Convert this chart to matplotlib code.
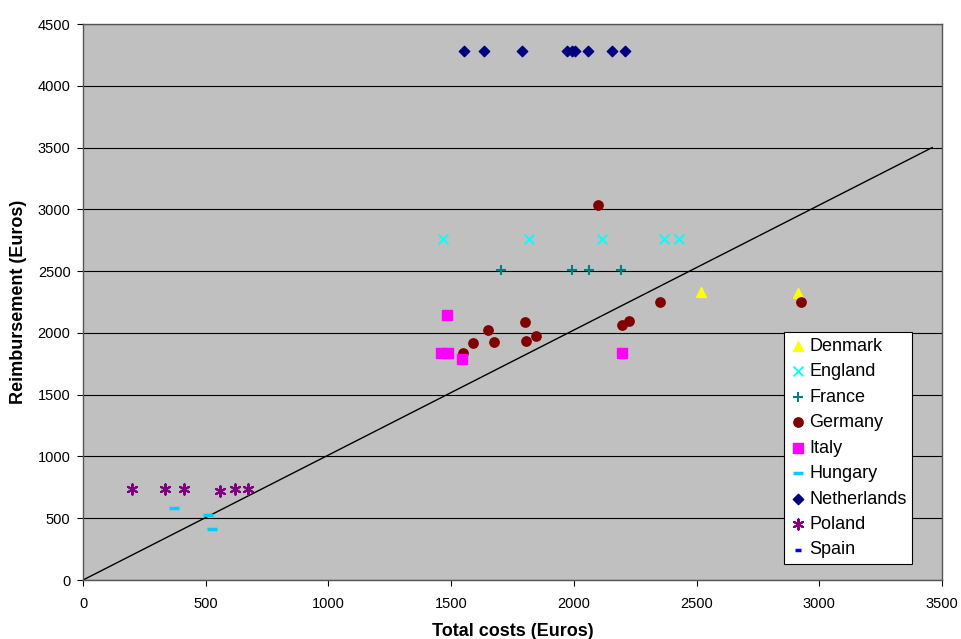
import matplotlib.pyplot as plt

plt.rcParams['font.family'] = ['Liberation Sans', 'DejaVu Sans']

# data (Total costs, Reimbursement)
denmark_x = [2517, 2913]
denmark_y = [2328, 2325]
england_x = [1466, 1819, 2113, 2369, 2430]
england_y = [2761, 2761, 2761, 2761, 2761]
france_x = [1705, 1991, 2061, 2194]
france_y = [2511, 2511, 2511, 2511]
germany_x = [2099, 2350, 2197, 2225, 1800, 1650, 1588, 1675, 1806, 1847, 1547, 2924]
germany_y = [3036, 2247, 2063, 2098, 2087, 2023, 1917, 1926, 1934, 1971, 1837, 2247]
italy_x = [1482, 1458, 1486, 1545, 2197]
italy_y = [2147, 1834, 1834, 1791, 1834]
hungary_x = [370, 508, 525]
hungary_y = [582, 526, 413]
netherlands_x = [1554, 1633, 1789, 1974, 1992, 2004, 2057, 2154, 2209]
netherlands_y = [4280] * 9
poland_x = [201, 336, 412, 560, 620, 674]
poland_y = [736, 740, 740, 724, 738, 738]
spain_x = []
spain_y = []

line_x = [0, 3460]
line_y = [0, 3500]

fig = plt.figure(figsize=(9.61, 6.39), dpi=100)
ax = fig.add_axes([0.0864, 0.0923, 0.8938, 0.8701])
ax.set_facecolor('#C0C0C0')

ax.scatter(denmark_x, denmark_y, marker='^', s=50, color='#FFFF00', label='Denmark', zorder=3)
ax.scatter(england_x, england_y, marker='x', s=50, color='#00FFFF', linewidths=1.3, label='England', zorder=3)
ax.scatter(france_x, france_y, marker='+', s=55, color='#008080', linewidths=1.5, label='France', zorder=3)
ax.scatter(germany_x, germany_y, marker='o', s=45, color='#800000', label='Germany', zorder=3)
ax.scatter(italy_x, italy_y, marker='s', s=45, color='#FF00FF', label='Italy', zorder=3)
ax.scatter(hungary_x, hungary_y, marker='_', s=60, color='#00CCFF', linewidths=2.5, label='Hungary', zorder=3)
ax.scatter(netherlands_x, netherlands_y, marker='D', s=28, color='#000080', label='Netherlands', zorder=3)
ax.scatter(poland_x, poland_y, marker=(6, 2, 0), s=55, color='#800080', linewidths=1.5, label='Poland', zorder=3)
ax.scatter(spain_x, spain_y, marker='_', s=20, color='#0000FF', linewidths=2.5, label='Spain', zorder=3)

ax.plot(line_x, line_y, color='black', linewidth=1, zorder=2)

ax.set_xlim(0, 3500)
ax.set_ylim(0, 4500)
ax.set_xticks(range(0, 3501, 500))
ax.set_yticks(range(0, 4501, 500))
ax.yaxis.grid(True, color='black', linewidth=0.8)
ax.set_axisbelow(True)
ax.tick_params(direction='out', length=4, labelsize=10.5, color='black')
ax.tick_params(axis='x', pad=8)
ax.tick_params(axis='y', pad=5)
for s in ax.spines.values():
    s.set_color('#555555')
    s.set_linewidth(1)

ax.set_xlabel('Total costs (Euros)', fontsize=13, fontweight='bold', labelpad=9)
ax.set_ylabel('Reimbursement (Euros)', fontsize=13, fontweight='bold', labelpad=8)

leg = ax.legend(loc='lower right', bbox_to_anchor=(0.965, 0.029), borderaxespad=0, fontsize=13,
                frameon=True, fancybox=False, framealpha=1, edgecolor='black', handletextpad=0.1,
                labelspacing=0.47, borderpad=0.3, handlelength=1.0, scatterpoints=1)
leg.get_frame().set_linewidth(0.8)

fig.savefig('out.png', dpi=100)
